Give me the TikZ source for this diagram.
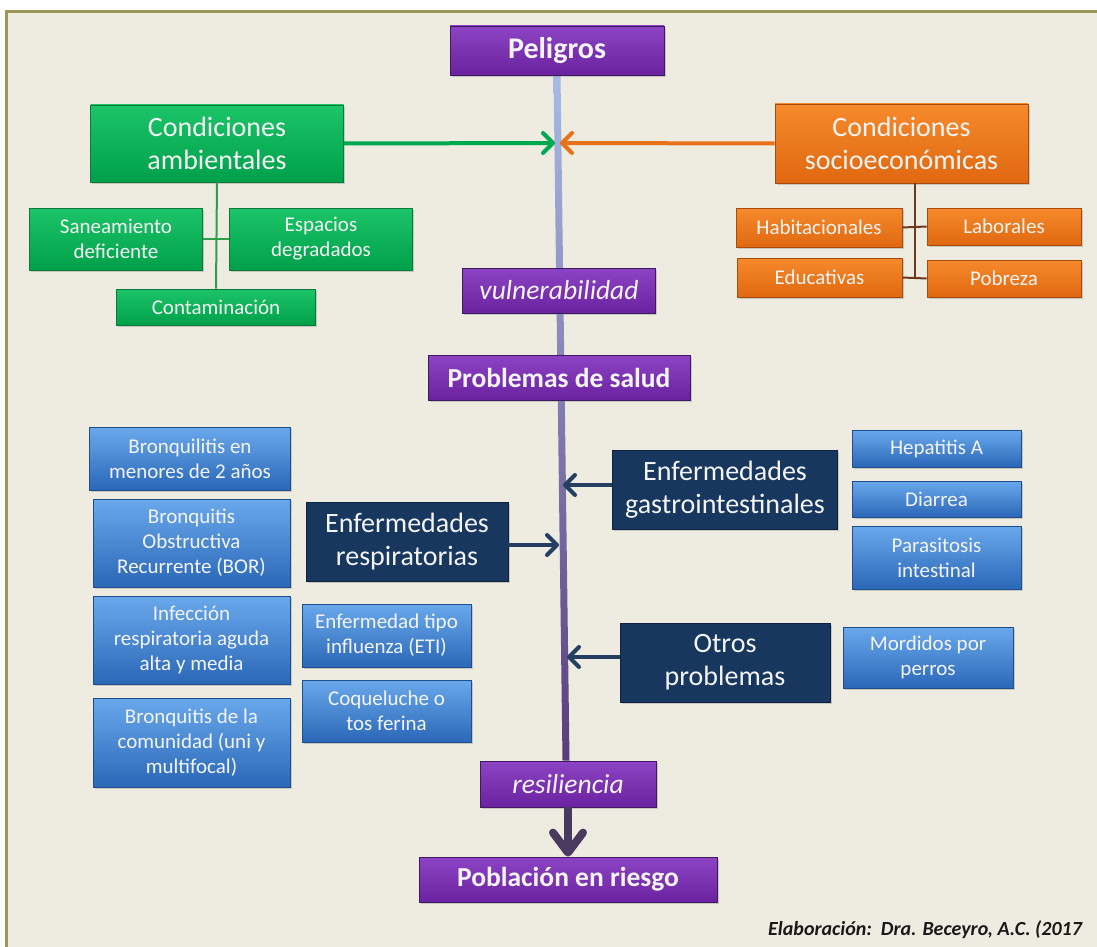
\documentclass[tikz,border=0pt]{standalone}
\usepackage{fontspec}
\setmainfont{Carlito}
\usetikzlibrary{arrows.meta,shadows,calc}
\pgfdeclarelayer{back}\pgfdeclarelayer{mid}\pgfsetlayers{back,mid,main}
\definecolor{bgc}{HTML}{EEECE1}
\definecolor{framec}{HTML}{9C9658}
\definecolor{txt}{HTML}{F4F4F4}
\definecolor{purT}{HTML}{8C44C4}
\definecolor{purD}{HTML}{6A22A0}
\definecolor{purB}{HTML}{3E1A62}
\definecolor{grnT}{HTML}{1CC468}
\definecolor{grnD}{HTML}{00A04A}
\definecolor{grnB}{HTML}{0A7A3A}
\definecolor{orgT}{HTML}{F68A2C}
\definecolor{orgD}{HTML}{E06810}
\definecolor{orgB}{HTML}{A84C0C}
\definecolor{navy}{HTML}{17375E}
\definecolor{navyB}{HTML}{0C2240}
\definecolor{bluT}{HTML}{6AA8EC}
\definecolor{bluD}{HTML}{2A68B8}
\definecolor{bluB}{HTML}{1E4E8C}
\definecolor{lineT}{HTML}{A8BBE4}
\definecolor{lineM}{HTML}{9A8FC7}
\definecolor{lineB}{HTML}{5A3C7C}
\definecolor{garr}{HTML}{00A84E}
\definecolor{oarr}{HTML}{E8711A}
\definecolor{narr}{HTML}{243F60}
\definecolor{gtreec}{HTML}{2E9E4A}
\definecolor{otreec}{HTML}{6B3A1A}
\definecolor{barr}{HTML}{4A3A60}
\begin{document}
\begin{tikzpicture}[x=1pt,y=-1pt,
  sz/.style 2 args={minimum width=#1pt, minimum height=#2pt},
  box/.style={inner sep=0pt, align=center, text=txt,
    drop shadow={shadow xshift=1.5pt,shadow yshift=-2pt,opacity=0.35}},
  purplebox/.style={box, draw=purB, line width=0.8pt, top color=purT, bottom color=purD,
    font=\fontsize{27.5}{32}\selectfont\bfseries},
  italbox/.style={box, draw=purB, line width=0.8pt, top color=purT, bottom color=purD,
    font=\fontsize{27.5}{30}\selectfont\itshape},
  greenbig/.style={box, draw=grnB, line width=0.6pt, top color=grnT, bottom color=grnD,
    font=\fontsize{28}{33}\selectfont},
  greensub/.style={box, draw=grnB, line width=0.6pt, top color=grnT, bottom color=grnD,
    font=\fontsize{21}{25}\selectfont},
  orangebig/.style={box, draw=orgB, line width=0.6pt, top color=orgT, bottom color=orgD,
    font=\fontsize{28}{33}\selectfont},
  orangesub/.style={box, draw=orgB, line width=0.6pt, top color=orgT, bottom color=orgD,
    font=\fontsize{21}{25}\selectfont},
  navybox/.style={box, draw=navyB, line width=0.6pt, fill=navy,
    font=\fontsize{28}{33}\selectfont},
  bluebox/.style={box, draw=bluB, line width=0.6pt, top color=bluT, bottom color=bluD,
    font=\fontsize{21}{25}\selectfont},
  sarrow/.style={line width=4pt, -{Straight Barb[length=10pt,width=20pt,line cap=round,line join=round]}},
  garrow/.style={sarrow, draw=garr},
  oarrow/.style={sarrow, draw=oarr},
  narrow/.style={sarrow, draw=narr},
  gtree/.style={draw=gtreec, line width=2pt},
  otree/.style={draw=otreec, line width=2pt},
  barrow/.style={draw=barr, line width=8pt, -{Straight Barb[length=20pt,width=30pt,line cap=round,line join=round]}}
]
\useasboundingbox (0,0) rectangle (1097,947);
\begin{pgfonlayer}{back}
  \fill[white] (0,0) rectangle (1097,947);
  \fill[bgc] (6,12) rectangle (1097,947);
  \draw[framec, line width=3pt] (1097,12) -- (6,12) -- (6,947);
\end{pgfonlayer}

% main chain
\node[purplebox, sz={214}{49}, font=\fontsize{30}{34}\selectfont\bfseries] (pel) at (557,50.5) {Peligros};
\node[italbox, sz={193}{45}] (vul) at (559,290.5) {vulnerabilidad};
\node[purplebox, sz={262}{45}] (prob) at (559,377.5) {Problemas de salud};
\node[italbox, sz={176}{46}] (res) at (568,784) {resiliencia};
\node[purplebox, sz={298}{45}] (pobl) at (568,879.5) {Población en riesgo};

% environmental
\node[greenbig, sz={253}{77}] (amb) at (217,143.5) {Condiciones\\ambientales};
\node[greensub, sz={173}{62}] (san) at (116,239) {Saneamiento\\deficiente};
\node[greensub, sz={183}{62}] (esp) at (321,239) {Espacios\\degradados};
\node[greensub, sz={199}{36}] (cont) at (216,307) {Contaminación};

% socioeconomic
\node[orangebig, sz={253}{79}] (socio) at (901.5,143.5) {Condiciones\\socioeconómicas};
\node[orangesub, sz={166}{39}] (hab) at (819,227.5) {Habitacionales};
\node[orangesub, sz={154}{37}] (lab) at (1004,226.5) {Laborales};
\node[orangesub, sz={165}{39}] (edu) at (819.5,277.5) {Educativas};
\node[orangesub, sz={154}{37}] (pob) at (1004,278.5) {Pobreza};

% respiratory
\node[bluebox, sz={201}{63}] (b1) at (190,458.5) {Bronquilitis en\\menores de 2 años};
\node[bluebox, sz={197}{88}] (b2) at (191.5,543) {Bronquitis\\Obstructiva\\Recurrente (BOR)};
\node[bluebox, sz={197}{88}] (b3) at (191.5,640) {Infección\\respiratoria aguda\\alta y media};
\node[bluebox, sz={197}{89}] (b4) at (191.5,742.5) {Bronquitis de la\\comunidad (uni y\\multifocal)};
\node[navybox, sz={202}{79}] (resp) at (407,541.5) {Enfermedades\\respiratorias};
\node[bluebox, sz={169}{63}] (eti) at (386.5,635.5) {Enfermedad tipo\\influenza (ETI)};
\node[bluebox, sz={169}{62}] (coq) at (386.5,711) {Coqueluche o\\tos ferina};

% gastrointestinal
\node[navybox, sz={225}{79}] (gastro) at (725,489.5) {Enfermedades\\gastrointestinales};
\node[bluebox, sz={169}{37}] (hep) at (936.5,448.5) {Hepatitis A};
\node[bluebox, sz={169}{36}] (dia) at (936.5,499) {Diarrea};
\node[bluebox, sz={169}{63}] (par) at (936.5,557.5) {Parasitosis\\intestinal};

% others
\node[navybox, sz={210}{79}] (otros) at (725,662.5) {Otros\\problemas};
\node[bluebox, sz={170}{61}] (mord) at (928,657.5) {Mordidos por\\perros};

% credit
\node[anchor=west, inner sep=0pt, font=\fontsize{20}{24}\selectfont\bfseries\itshape, text=black!90] (cred) at (768,930) {Elaboración:\ \ Dra. Beceyro, A.C. (2017};

% vertical line
\begin{pgfonlayer}{mid}
  \shade[top color=lineT, middle color=lineM, bottom color=lineB]
    ($(pel.south)+(-3.5,0)$) -- ($(pel.south)+(3.5,0)$) -- ($(res.north)+(1.5,0)$) -- ($(res.north)+(-5.5,0)$) -- cycle;
\end{pgfonlayer}

% arrow targets on the line
\coordinate (tA) at (555,143);
\coordinate (tS) at (560,143);
\coordinate (tR) at (559,545);
\coordinate (tG) at (563,485);
\coordinate (tO) at (567,657);

\draw[garrow] (amb.east) -- (tA);
\draw[oarrow] (socio.west) -- (tS);
\draw[narrow] (resp.east |- tR) -- (tR);
\draw[narrow] (gastro.west |- tG) -- (tG);
\draw[narrow] (otros.west |- tO) -- (tO);
\draw[barrow] (res.south) -- (pobl.north);

% trees
\draw[gtree] (amb.south) -- (cont.north);
\draw[gtree] (san.east) -- (esp.west);
\coordinate (ot) at (914.5,183);
\coordinate (ob) at (914.5,277);
\draw[otree] (ot) -- (ob);
\draw[otree] (hab.east) -- (lab.west);
\draw[otree] (edu.east) -- (pob.west);
\end{tikzpicture}
\end{document}
